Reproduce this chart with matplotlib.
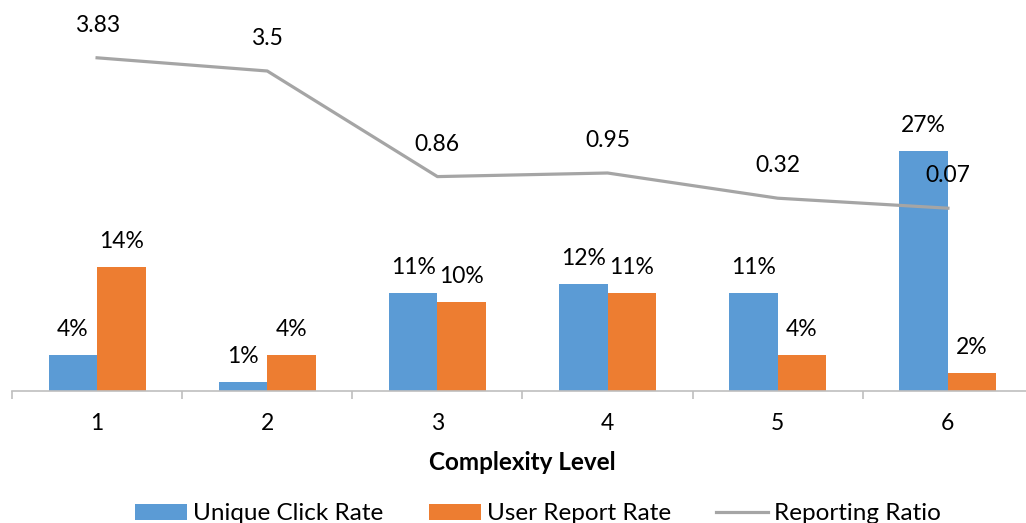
import numpy as np
import matplotlib.pyplot as plt
from matplotlib.ticker import FixedLocator

plt.rcParams['font.family'] = ['Lato', 'DejaVu Sans']

# Dados por nível de complexidade
niveis = ['1', '2', '3', '4', '5', '6']
taxa_clique = [4, 1, 11, 12, 11, 27]      # Unique Click Rate (%)
taxa_reporte = [14, 4, 10, 11, 4, 2]      # User Report Rate (%)
razao_reporte = [3.83, 3.5, 0.86, 0.95, 0.32, 0.07]

azul = '#5B9BD5'
laranja = '#ED7D31'
cinza = '#A5A5A5'
fs = 16.5

fig = plt.figure(figsize=(10.26, 5.23), dpi=100)
W, H = 1026, 523
# eixo posicionado em pixels: base das barras em y=391
ax = fig.add_axes([12 / W, (H - 391) / H, (1033 - 12) / W, 391 / H])

x = np.arange(1, len(niveis) + 1)
larg = 0.285
b1 = ax.bar(x - larg / 2, taxa_clique, larg, color=azul, label='Unique Click Rate')
b2 = ax.bar(x + larg / 2, taxa_reporte, larg, color=laranja, label='User Report Rate')
ax.set_xlim(0.5, 6.5)
ax.set_ylim(0, 391 / 8.89)

for barras, valores in ((b1, taxa_clique), (b2, taxa_reporte)):
    for b, v in zip(barras, valores):
        ax.annotate(f'{v}%', (b.get_x() + b.get_width() / 2, v), xytext=(0, 13.7),
                    textcoords='offset points', ha='center', va='baseline', fontsize=fs)

for s in ['top', 'right', 'left']:
    ax.spines[s].set_visible(False)
ax.spines['bottom'].set_color('#BFBFBF')
ax.spines['bottom'].set_linewidth(1.2)
ax.set_yticks([])
ax.set_xticks(x)
ax.set_xticklabels(niveis, fontsize=fs)
ax.tick_params(axis='x', which='major', length=0, pad=16)
ax.xaxis.set_minor_locator(FixedLocator(np.arange(0.5, 7, 1)))
ax.tick_params(axis='x', which='minor', length=6, color='#BFBFBF', width=1.2, direction='out')
ax.set_xlabel('Complexity Level', fontsize=17.5, fontweight='bold', labelpad=12)

# razão em eixo secundário oculto
ax2 = ax.twinx()
linha, = ax2.plot(x, razao_reporte, color=cinza, lw=2.3, label='Reporting Ratio')
ax2.set_ylim(-4.5, 211 / 40)
ax2.axis('off')
for xi, v in zip(x, razao_reporte):
    ax2.annotate(f'{v:g}', (xi, v), xytext=(0, 18.7), textcoords='offset points',
                 ha='center', va='baseline', fontsize=fs)

fig.legend(handles=[b1, b2, linha], loc='center', bbox_to_anchor=(538 / W, 1 - 514 / H),
           ncol=3, frameon=False, fontsize=17.5, handlelength=2.14, handleheight=0.62,
           handletextpad=0.25, columnspacing=1.85)

plt.savefig('out.png', dpi=100)
